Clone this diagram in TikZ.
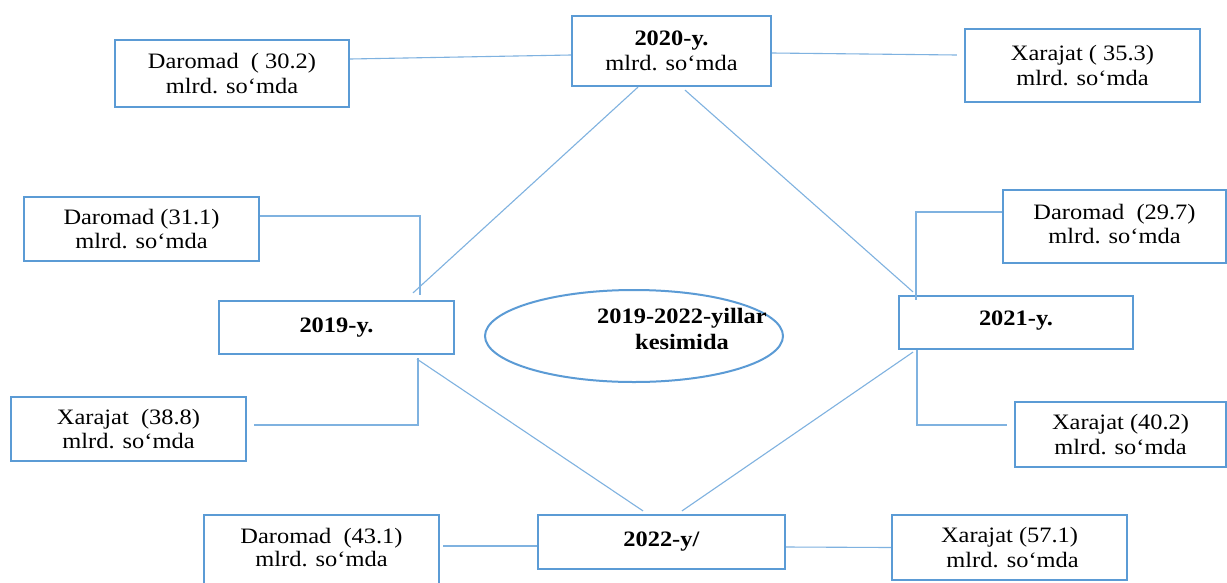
\documentclass[tikz,border=0pt]{standalone}
\usepackage{fontspec}
\setmainfont[FakeStretch=1.11]{Liberation Serif}
\usetikzlibrary{shapes.geometric}
\definecolor{boxblue}{HTML}{5B9BD5}
\definecolor{lineblue}{HTML}{7FB2E0}
\begin{document}
\begin{tikzpicture}[x=1pt,y=-1pt,
  box/.style={draw=boxblue, line width=2.2pt, fill=white, rectangle, align=center,
    font=\fontsize{22}{24.5}\selectfont, inner sep=0pt},
  conn/.style={draw=lineblue, line width=1.1pt},
  bigtxt/.style={font=\bfseries\fontsize{22}{26}\selectfont, align=center, inner sep=0pt}]
\useasboundingbox (0,0) rectangle (1227,582);
\clip (0,0) rectangle (1227,582);
\fill[white] (0,0) rectangle (1227,582);

% central ellipse
\node[draw=boxblue, line width=2pt, ellipse, minimum width=298pt, minimum height=92pt, inner sep=0pt] (el) at (634,336) {};
\node[bigtxt] (elt) at (682,329) {2019-2022-yillar\\kesimida};

% year boxes
\node[box, minimum width=199pt, minimum height=70pt] (y20) at (671.5,51) {\textbf{2020-y.}\\mlrd. so‘mda};
\node[box, minimum width=235pt, minimum height=53pt] (y19) at (336.5,327.5) {\raisebox{5pt}{\textbf{2019-y.}}};
\node[box, minimum width=234pt, minimum height=53pt] (y21) at (1016,322.5) {\raisebox{9pt}{\textbf{2021-y.}}};
\node[box, minimum width=247pt, minimum height=54pt] (y22) at (661.5,542) {\raisebox{5pt}{\textbf{2022-y/}}};

% value boxes
\node[box, minimum width=234pt, minimum height=67pt] (d20) at (232,73.5) {Daromad\ \ ( 30.2)\\mlrd. so‘mda};
\node[box, minimum width=235pt, minimum height=73pt] (x20) at (1082.5,65.5) {Xarajat ( 35.3)\\mlrd. so‘mda};
\node[box, minimum width=235pt, minimum height=64pt] (d19) at (141.5,229) {Daromad (31.1)\\mlrd. so‘mda};
\node[box, minimum width=235pt, minimum height=64pt] (x19) at (128.5,429) {Xarajat\ \ (38.8)\\mlrd. so‘mda};
\node[box, minimum width=223pt, minimum height=73pt] (d21) at (1114.5,226.5) {\raisebox{4pt}{\begin{tabular}{@{}c@{}}Daromad\ \ (29.7)\\[-1pt]mlrd. so‘mda\end{tabular}}};
\node[box, minimum width=211pt, minimum height=65pt] (x21) at (1120.5,434.5) {Xarajat (40.2)\\mlrd. so‘mda};
\node[box, minimum width=235pt, minimum height=70pt] (d22) at (321.5,550) {\raisebox{2pt}{\begin{tabular}{@{}c@{}}Daromad\ \ (43.1)\\[-1pt]mlrd. so‘mda\end{tabular}}};
\node[box, minimum width=235pt, minimum height=65pt] (x22) at (1009.5,547.5) {Xarajat (57.1)\\\ mlrd. so‘mda};

% free corner points of elbow connectors
\coordinate (c19a) at (420,295);
\coordinate (c19b) at (418,358);
\coordinate (c21a) at (916,300);
\coordinate (c21b) at (917,350);

% connectors
\draw[conn] ([yshift=14.5pt]d20.east) -- ([yshift=-4pt]y20.west);
\draw[conn] ([yshift=-2pt]y20.east) -- ([xshift=-7pt,yshift=10.5pt]x20.west);
\draw[conn] ([xshift=-33.5pt]y20.south) -- ([xshift=76.5pt,yshift=7pt]y19.north);
\draw[conn] ([xshift=13.5pt,yshift=-3pt]y20.south) -- ([xshift=-103pt,yshift=3pt]y21.north);
\draw[conn] ([yshift=13pt]d19.east) -| (c19a);
\draw[conn] ([xshift=7pt,yshift=4pt]x19.east) -| (c19b);
\draw[conn] ([xshift=80.5pt,yshift=-4pt]y19.south) -- ([xshift=-18.5pt,yshift=3pt]y22.north);
\draw[conn] ([xshift=-103pt,yshift=-2pt]y21.south) -- ([xshift=20.5pt,yshift=3pt]y22.north);
\draw[conn] ([yshift=14.5pt]d21.west) -| (c21a);
\draw[conn] ([xshift=-7pt,yshift=9.5pt]x21.west) -| (c21b);
\draw[conn] ([xshift=3pt,yshift=4pt]d22.east) -- ([yshift=-4pt]y22.west);
\draw[conn] ([yshift=-5pt]y22.east) -- (x22.west);
\end{tikzpicture}
\end{document}
